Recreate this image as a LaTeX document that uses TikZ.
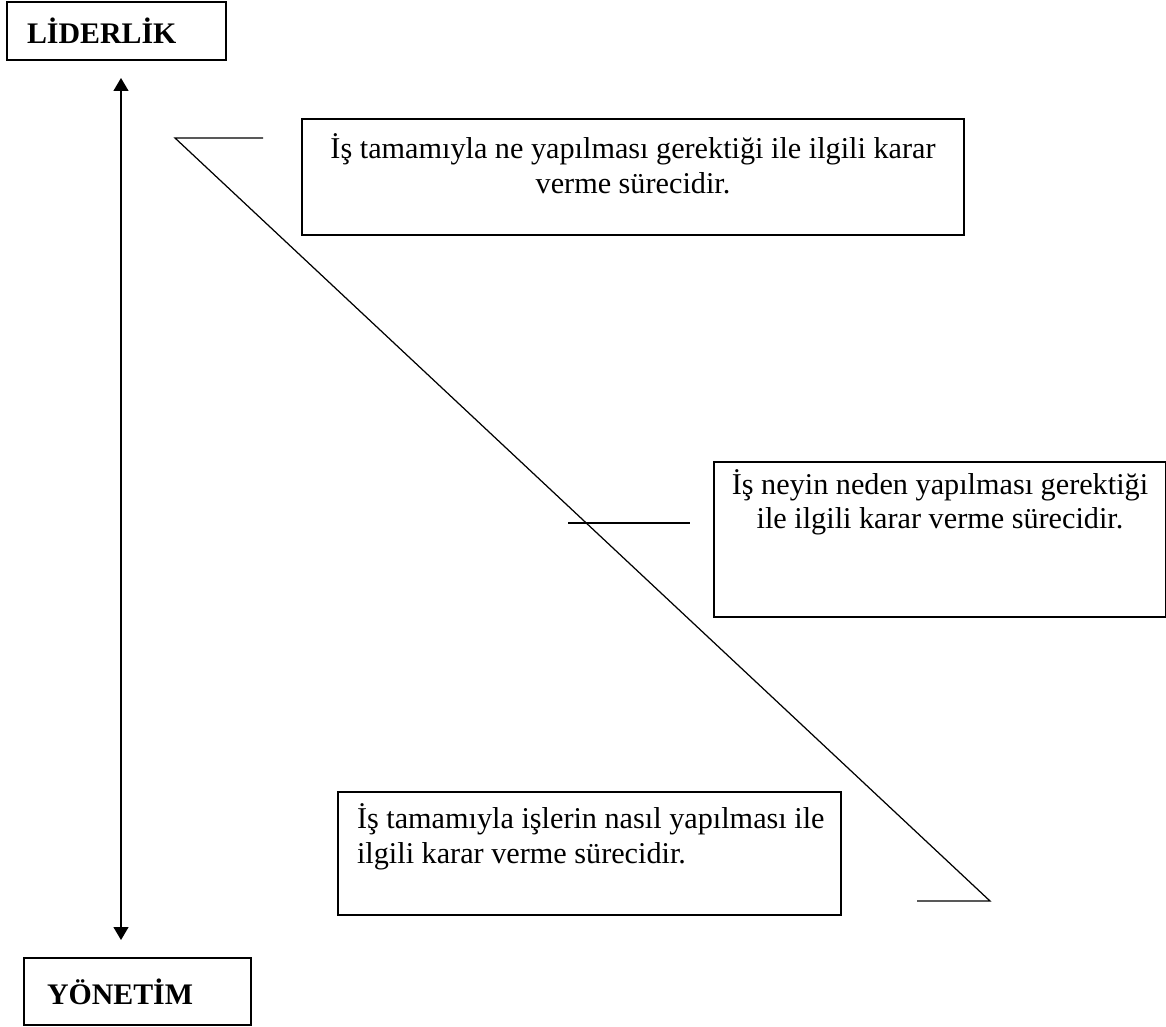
\documentclass[tikz,border=0pt]{standalone}
\usepackage{fontspec}
\setmainfont{Liberation Serif}
\usepackage{tikz}
\newcommand{\textsz}{\fontsize{17.2}{19.6}\selectfont}
\newcommand{\headsz}{\fontsize{17}{20}\selectfont\bfseries}
\newcommand{\boxtext}[4]{\parbox[c][#2][t]{#1}{\vspace*{#3}\strut #4}}
\usetikzlibrary{arrows.meta,positioning}
\tikzset{
  headbox/.style={draw,line width=0.9pt,shape=rectangle,inner ysep=0,inner xsep=0.4cm,minimum height=1.16cm,align=left,font=\headsz},
  textbox/.style={draw,line width=0.8pt,shape=rectangle,inner sep=0},
  line/.style={draw,line width=0.7pt},
  axis/.style={draw,line width=0.7pt,{Triangle[width=0.3cm,length=0.26cm]}-{Triangle[width=0.3cm,length=0.26cm]}},
}

\begin{document}
\begin{tikzpicture}[x=0.02cm,y=-0.02cm]
  \useasboundingbox (0,0) rectangle (1166,1027);
  % left axis
  \node (lider) [headbox,text width=3.58cm] at (116.5,31) {LİDERLİK};
  \node (yonetim) [headbox,text width=3.62cm,inner xsep=0.46cm,minimum height=1.34cm] at (137.5,991.5) {YÖNETİM};
  \coordinate (up) at (121,78);
  \coordinate (down) at (121,940);
  \path [axis] (up) -- (down);
  % diagonal
  \coordinate (tipA) at (175,138);
  \coordinate (tailA) at (263,138);
  \coordinate (tipB) at (990,901);
  \coordinate (tailB) at (917,901);
  \coordinate (midL) at (568,523);
  \coordinate (midR) at (690,523);
  \path [line] (tailA) -- (tipA) -- (tipB) -- (tailB);
  \path [line] (midL) -- (midR);
  % boxes
  \node (what) [textbox] at (633,177) {\boxtext{13.24cm}{2.32cm}{0.3cm}{\centering\textsz İş tamamıyla ne yapılması gerektiği ile ilgili karar\\ verme sürecidir.}};
  \node (why) [textbox] at (940,539.5) {\boxtext{9.04cm}{3.1cm}{0.15cm}{\centering\textsz İş neyin neden yapılması gerektiği\\ ile ilgili karar verme sürecidir.}};
  \node (how) [textbox] at (589.5,853.5) {\boxtext{10.06cm}{2.46cm}{0.24cm}{\raggedright\leftskip=0.38cm\textsz İş tamamıyla işlerin nasıl yapılması ile\\ ilgili karar verme sürecidir.}};
\end{tikzpicture}
\end{document}
